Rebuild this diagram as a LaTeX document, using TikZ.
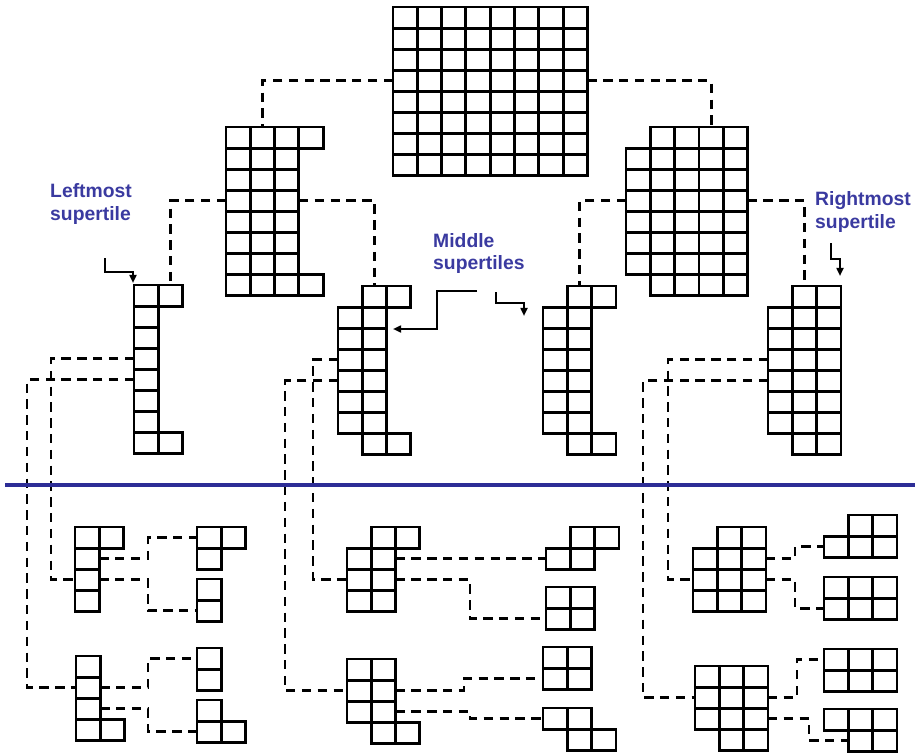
\documentclass[tikz,border=0pt]{standalone}
\usepackage{fontspec}
\setmainfont{Liberation Sans}
\usetikzlibrary{arrows.meta}

\definecolor{labelblue}{RGB}{58,58,160}
\definecolor{cutblue}{RGB}{45,45,150}

% one tile = list of col/firstrow/lastrow runs of cells
\newcommand{\drawtile}[3]{%
  \foreach \c/\a/\b in {#3}{
    \foreach \r in {\a,...,\b}
      \draw[cell] ({#1+\c*24.3},{#2+\r*21.1}) rectangle ++(24.3,21.1);
  }}

\begin{document}
\begin{tikzpicture}[x=0.03cm, y=-0.03cm,
    cell/.style={draw=black, line width=2.4pt},
    link/.style={black, line width=2.5pt, dash pattern=on 8pt off 5.5pt},
    pointer/.style={black, line width=1.7pt, -{Triangle[length=7pt, width=6pt]}},
    lbl/.style={text=labelblue, font=\bfseries\fontsize{16.5}{19.5}\selectfont, align=left, inner sep=0pt, anchor=west}]
    \useasboundingbox (0,0) rectangle (920,754);

    %Tiles
    \drawtile{393}{7}{0/0/7, 1/0/7, 2/0/7, 3/0/7, 4/0/7, 5/0/7, 6/0/7, 7/0/7}
    \drawtile{226}{127}{0/0/7, 1/0/7, 2/0/7, 3/0/0, 3/7/7}
    \drawtile{626}{127}{0/1/6, 1/0/7, 2/0/7, 3/0/7, 4/0/7}
    \drawtile{134}{285}{0/0/7, 1/0/0, 1/7/7}
    \drawtile{338}{286}{0/1/6, 1/0/7, 2/0/0, 2/7/7}
    \drawtile{543}{286}{0/1/6, 1/0/7, 2/0/0, 2/7/7}
    \drawtile{768}{286}{0/1/6, 1/0/7, 2/0/7}
    % left pieces
    \drawtile{75}{527}{0/0/3, 1/0/0}
    \drawtile{197}{527}{0/0/1, 1/0/0}
    \drawtile{197}{579}{0/0/1}
    \drawtile{76}{656}{0/0/3, 1/3/3}
    \drawtile{197}{648}{0/0/1}
    \drawtile{197}{700}{0/0/1, 1/1/1}
    % middle pieces
    \drawtile{347}{527}{0/1/3, 1/0/3, 2/0/0}
    \drawtile{546}{527}{0/1/1, 1/0/1, 2/0/0}
    \drawtile{546}{587}{0/0/1, 1/0/1}
    \drawtile{347}{659}{0/0/2, 1/0/3, 2/3/3}
    \drawtile{543}{647}{0/0/1, 1/0/1}
    \drawtile{543}{708}{0/0/0, 1/0/1, 2/1/1}
    % right pieces
    \drawtile{693}{527}{0/1/3, 1/0/3, 2/0/3}
    \drawtile{824}{515}{0/1/1, 1/0/1, 2/0/1}
    \drawtile{824}{577}{0/0/1, 1/0/1, 2/0/1}
    \drawtile{695}{666}{0/0/2, 1/0/3, 2/0/3}
    \drawtile{824}{649}{0/0/1, 1/0/1, 2/0/1}
    \drawtile{824}{709}{0/0/0, 1/0/1, 2/0/1}

    %Labels
    \node[lbl] (leftmost) at (50,204) {Leftmost\\supertile};
    \node[lbl] (middle) at (433,253.5) {Middle\\supertiles};
    \node[lbl] (rightmost) at (815,212) {Rightmost\\supertile};

    %Ports
    \coordinate (top-w) at (393,80.85);
    \coordinate (top-e) at (587.4,80.85);
    \coordinate (ul-n) at (262.45,127);
    \coordinate (ur-n) at (711.05,127);
    \coordinate (ul-w) at (226,200.85);
    \coordinate (ul-e) at (298.9,200.85);
    \coordinate (ur-w) at (626,200.85);
    \coordinate (ur-e) at (747.5,200.85);
    \coordinate (lm-n) at (170.45,285);
    \coordinate (ml-n) at (374.45,286);
    \coordinate (mr-n) at (579.45,286);
    \coordinate (rm-n) at (804.45,286);
    \coordinate (lm-w1) at (134,358.85);
    \coordinate (lm-w2) at (134,379.95);
    \coordinate (ml-w1) at (338,359.85);
    \coordinate (ml-w2) at (338,380.95);
    \coordinate (rm-w1) at (768,359.85);
    \coordinate (rm-w2) at (768,380.95);
    \coordinate (l1-w) at (75,579.75);
    \coordinate (l2-w) at (76,687.65);
    \coordinate (m1-w) at (347,579.75);
    \coordinate (m2-w) at (347,690.65);
    \coordinate (r1-w) at (693,579.75);
    \coordinate (r2-w) at (695,697.65);
    \coordinate (l1-e1) at (99.3,558.65);
    \coordinate (l1-e2) at (99.3,579.75);
    \coordinate (l1a-w) at (197,537.55);
    \coordinate (l1b-w) at (197,610.65);
    \coordinate (l2-e1) at (100.3,687.65);
    \coordinate (l2-e2) at (100.3,708.75);
    \coordinate (l2a-w) at (197,658.55);
    \coordinate (l2b-w) at (197,731.65);
    \coordinate (m1-e1) at (395.6,558.65);
    \coordinate (m1-e2) at (395.6,579.75);
    \coordinate (m1a-w) at (546,558.65);
    \coordinate (m1b-w) at (546,618.65);
    \coordinate (m2-e1) at (395.6,690.65);
    \coordinate (m2-e2) at (395.6,711.75);
    \coordinate (m2a-w) at (543,678.65);
    \coordinate (m2b-w) at (543,718.55);
    \coordinate (r1-e1) at (765.9,558.65);
    \coordinate (r1-e2) at (765.9,579.75);
    \coordinate (r1a-w) at (824,546.65);
    \coordinate (r1b-w) at (824,608.65);
    \coordinate (r2-e1) at (767.9,697.65);
    \coordinate (r2-e2) at (767.9,718.75);
    \coordinate (r2a-w) at (824,659.55);
    \coordinate (r2b-w) at (848.3,740.65);
    % rails
    \coordinate (railA) at (51,0);
    \coordinate (railB) at (27,0);
    \coordinate (railC) at (313,0);
    \coordinate (railD) at (285,0);
    \coordinate (railE) at (668,0);
    \coordinate (railF) at (643,0);
    \coordinate (jl) at (148,0);
    \coordinate (jm1) at (470,0);
    \coordinate (jm2) at (464,0);
    \coordinate (jr1) at (795,0);
    \coordinate (jr2) at (797,0);
    \coordinate (jr3) at (809,0);

    %Lines
    \draw[link] (top-w) -| (ul-n);
    \draw[link] (top-e) -| (ur-n);
    \draw[link] (ul-w) -| (lm-n);
    \draw[link] (ul-e) -| (ml-n);
    \draw[link] (ur-w) -| (mr-n);
    \draw[link] (ur-e) -| (rm-n);
    \draw[link] (lm-w1) -| (railA |- l1-w) -- (l1-w);
    \draw[link] (lm-w2) -| (railB |- l2-w) -- (l2-w);
    \draw[link] (ml-w1) -| (railC |- m1-w) -- (m1-w);
    \draw[link] (ml-w2) -| (railD |- m2-w) -- (m2-w);
    \draw[link] (rm-w1) -| (railE |- r1-w) -- (r1-w);
    \draw[link] (rm-w2) -| (railF |- r2-w) -- (r2-w);
    \draw[link] (l1-e1) -| (jl |- l1a-w) -- (l1a-w);
    \draw[link] (l1-e2) -| (jl |- l1b-w) -- (l1b-w);
    \draw[link] (l2-e1) -| (jl |- l2a-w) -- (l2a-w);
    \draw[link] (l2-e2) -| (jl |- l2b-w) -- (l2b-w);
    \draw[link] (m1-e1) -- (m1a-w);
    \draw[link] (m1-e2) -| (jm1 |- m1b-w) -- (m1b-w);
    \draw[link] (m2-e1) -| (jm2 |- m2a-w) -- (m2a-w);
    \draw[link] (m2-e2) -| (jm1 |- m2b-w) -- (m2b-w);
    \draw[link] (r1-e1) -| (jr1 |- r1a-w) -- (r1a-w);
    \draw[link] (r1-e2) -| (jr1 |- r1b-w) -- (r1b-w);
    \draw[link] (r2-e1) -| (jr2 |- r2a-w) -- (r2a-w);
    \draw[link] (r2-e2) -| (jr3 |- r2b-w) -- (r2b-w);

    %Pointers
    \coordinate (lm-s) at (105,258);
    \coordinate (lm-t) at (133,283);
    \coordinate (mid-s1) at (477,291);
    \coordinate (mid-k1) at (437,329);
    \coordinate (mid-t1) at (393,329);
    \coordinate (mid-s2) at (496,292);
    \coordinate (mid-t2) at (524,316);
    \coordinate (rm-s) at (831,243);
    \coordinate (rm-t) at (840,276);
    \draw[pointer] (lm-s) -- ++(0,14) -| (lm-t);
    \draw[pointer] (mid-s1) -| (mid-k1) -- (mid-t1);
    \draw[pointer] (mid-s2) -- ++(0,11) -| (mid-t2);
    \draw[pointer] (rm-s) -- ++(0,16) -| (rm-t);

    %Cut
    \coordinate (cut-w) at (5,485);
    \coordinate (cut-e) at (915,485);
    \draw[cutblue, line width=3pt] (cut-w) -- (cut-e);
\end{tikzpicture}
\end{document}
